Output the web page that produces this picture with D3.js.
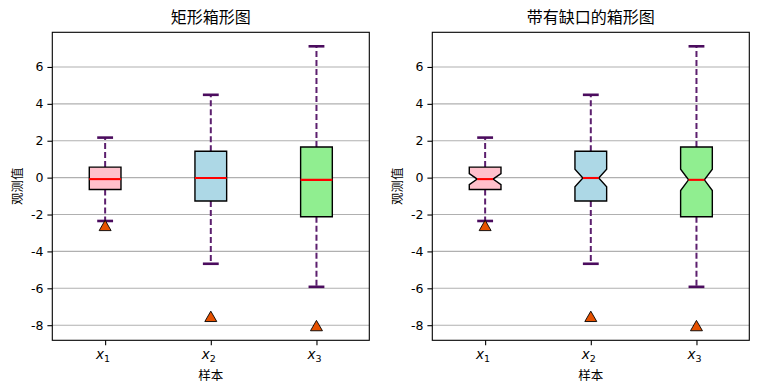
<!DOCTYPE html>
<html>
<head>
<meta charset="utf-8">
<script src="https://cdn.jsdelivr.net/npm/d3@7"></script>
<style>
  body { margin: 0; background: #fff; }
  svg { display: block; }
</style>
</head>
<body>
<div id="wrapper"></div>
<script>
// data
const categories = ["1", "2", "3"]
const lowerWhisker = [-2.35, -4.67, -5.92]
const q1 = [-0.64, -1.27, -2.12]
const median = [-0.08, -0.02, -0.12]
const q3 = [0.57, 1.43, 1.66]
const upperWhisker = [2.17, 4.49, 7.12]
const notchLow = [-0.38, -0.49, -0.70]
const notchHigh = [0.22, 0.45, 0.46]
const fliers = [[-2.63], [-7.56], [-8.06]]
const yTicks = [-8, -6, -4, -2, 0, 2, 4, 6]
const titles = ["矩形箱形图", "带有缺口的箱形图"]
const fills = ["pink", "lightblue", "lightgreen"]

function drawBoxes() {

  const dimensions = {
    width: 759,
    height: 392,
    panelWidth: 317,
    panelHeight: 308,
    top: 32.3,
    lefts: [52.3, 432.3],
  }

  const wrapper = d3.select("#wrapper")
    .append("svg")
      .attr("width", dimensions.width)
      .attr("height", dimensions.height)

  const boxes = categories.map((c, i) => ({
    i: i,
    pos: i + 1,
    lo: lowerWhisker[i],
    q1: q1[i],
    med: median[i],
    q3: q3[i],
    hi: upperWhisker[i],
    nlo: notchLow[i],
    nhi: notchHigh[i],
    fliers: fliers[i],
  }))

  // y range like matplotlib: data extent plus 5% margin
  const allVals = boxes.flatMap(d => [d.lo, d.hi, ...d.fliers])
  const yMin = d3.min(allVals), yMax = d3.max(allVals)
  const pad = (yMax - yMin) * 0.05

  const yScale = d3.scaleLinear()
    .domain([yMin - pad, yMax + pad])
    .range([dimensions.panelHeight, 0])

  const xScale = d3.scaleLinear()
    .domain([0.5, 3.5])
    .range([0, dimensions.panelWidth])

  const boxWidth = 0.3
  const sans = "'Noto Sans CJK SC', 'DejaVu Sans', sans-serif"

  const drawPanel = (p, notched) => {
    const bounds = wrapper.append("g")
      .attr("transform", `translate(${dimensions.lefts[p]}, ${dimensions.top})`)

    // grid
    bounds.append("g")
      .selectAll("line")
      .data(yTicks)
      .join("line")
        .attr("x1", 0)
        .attr("x2", dimensions.panelWidth)
        .attr("y1", d => yScale(d))
        .attr("y2", d => yScale(d))
        .attr("stroke", "#b0b0b0")
        .attr("stroke-width", 1.1)

    const boxGroups = bounds.append("g")
      .selectAll("g")
      .data(boxes)
      .join("g")

    // whiskers
    boxGroups.append("line")
      .attr("x1", d => xScale(d.pos))
      .attr("x2", d => xScale(d.pos))
      .attr("y1", d => yScale(d.q3))
      .attr("y2", d => yScale(d.hi))
      .attr("stroke", "#5c1f6e")
      .attr("stroke-width", 2)
      .attr("stroke-dasharray", "6 3")
    boxGroups.append("line")
      .attr("x1", d => xScale(d.pos))
      .attr("x2", d => xScale(d.pos))
      .attr("y1", d => yScale(d.q1))
      .attr("y2", d => yScale(d.lo))
      .attr("stroke", "#5c1f6e")
      .attr("stroke-width", 2)
      .attr("stroke-dasharray", "6 3")

    // caps
    ;["lo", "hi"].forEach(k => {
      boxGroups.append("line")
        .attr("x1", d => xScale(d.pos - boxWidth / 4))
        .attr("x2", d => xScale(d.pos + boxWidth / 4))
        .attr("y1", d => yScale(d[k]))
        .attr("y2", d => yScale(d[k]))
        .attr("stroke", "#4b0c5e")
        .attr("stroke-width", 2.6)
    })

    // box
    const boxPath = d => {
      const l = xScale(d.pos - boxWidth / 2), r = xScale(d.pos + boxWidth / 2)
      const cl = xScale(d.pos - boxWidth / 4), cr = xScale(d.pos + boxWidth / 4)
      const path = d3.path()
      if (!notched) {
        path.rect(l, yScale(d.q3), r - l, yScale(d.q1) - yScale(d.q3))
        return path.toString()
      }
      path.moveTo(l, yScale(d.q1))
      path.lineTo(r, yScale(d.q1))
      path.lineTo(r, yScale(d.nlo))
      path.lineTo(cr, yScale(d.med))
      path.lineTo(r, yScale(d.nhi))
      path.lineTo(r, yScale(d.q3))
      path.lineTo(l, yScale(d.q3))
      path.lineTo(l, yScale(d.nhi))
      path.lineTo(cl, yScale(d.med))
      path.lineTo(l, yScale(d.nlo))
      path.closePath()
      return path.toString()
    }
    boxGroups.append("path")
      .attr("d", boxPath)
      .attr("fill", d => fills[d.i])
      .attr("stroke", "black")
      .attr("stroke-width", 1.4)
      .attr("stroke-linejoin", "miter")

    // median
    const half = notched ? boxWidth / 4 : boxWidth / 2
    boxGroups.append("line")
      .attr("x1", d => xScale(d.pos - half))
      .attr("x2", d => xScale(d.pos + half))
      .attr("y1", d => yScale(d.med))
      .attr("y2", d => yScale(d.med))
      .attr("stroke", "red")
      .attr("stroke-width", 2.1)

    // fliers
    const tri = d3.symbol().type(d3.symbolTriangle).size(62)
    boxGroups.selectAll(".flier")
      .data(d => d.fliers.map(v => ({ pos: d.pos, v: v })))
      .join("path")
        .attr("class", "flier")
        .attr("d", tri)
        .attr("transform", d => `translate(${xScale(d.pos)}, ${yScale(d.v) + 1})`)
        .attr("fill", "#e65100")
        .attr("stroke", "black")
        .attr("stroke-width", 0.9)

    // axes
    const yAxis = bounds.append("g")
      .call(d3.axisLeft(yScale).tickValues(yTicks).tickSize(4.9).tickPadding(4).tickFormat(d => String(d)))
    yAxis.select(".domain").remove()
    yAxis.selectAll("text")
      .style("font-family", "'DejaVu Sans', sans-serif")
      .style("font-size", "12.5px")
      .attr("fill", "#000")
    yAxis.selectAll("line").attr("stroke", "#000").attr("stroke-width", 1.1)

    const xAxis = bounds.append("g")
      .attr("transform", `translate(0, ${dimensions.panelHeight})`)
      .call(d3.axisBottom(xScale).tickValues([1, 2, 3]).tickSize(4.9).tickFormat(""))
    xAxis.select(".domain").remove()
    xAxis.selectAll("line").attr("stroke", "#000").attr("stroke-width", 1.1)

    const xLabels = bounds.append("g")
      .selectAll("text")
      .data(boxes)
      .join("text")
        .attr("x", d => xScale(d.pos) - 2)
        .attr("y", dimensions.panelHeight + 19)
        .attr("text-anchor", "middle")
        .style("font-family", "'DejaVu Sans', sans-serif")
        .style("font-size", "13.5px")
    xLabels.append("tspan")
      .style("font-style", "italic")
      .text("x")
    xLabels.append("tspan")
      .attr("dy", 3)
      .style("font-size", "9.5px")
      .text(d => categories[d.i])

    // frame
    bounds.append("rect")
      .attr("width", dimensions.panelWidth)
      .attr("height", dimensions.panelHeight)
      .attr("fill", "none")
      .attr("stroke", "black")
      .attr("stroke-width", 1.1)

    // labels
    bounds.append("text")
      .attr("x", dimensions.panelWidth / 2)
      .attr("y", -9)
      .attr("text-anchor", "middle")
      .style("font-family", sans)
      .style("font-size", "16px")
      .text(titles[p])

    bounds.append("text")
      .attr("x", dimensions.panelWidth / 2)
      .attr("y", dimensions.panelHeight + 39.5)
      .attr("text-anchor", "middle")
      .style("font-family", sans)
      .style("font-size", "12.5px")
      .text("样本")

    bounds.append("text")
      .attr("transform", `translate(-30, ${dimensions.panelHeight / 2}) rotate(-90)`)
      .attr("text-anchor", "middle")
      .style("font-family", sans)
      .style("font-size", "12.5px")
      .text("观测值")
  }

  drawPanel(0, false)
  drawPanel(1, true)
}
drawBoxes()
</script>
</body>
</html>
